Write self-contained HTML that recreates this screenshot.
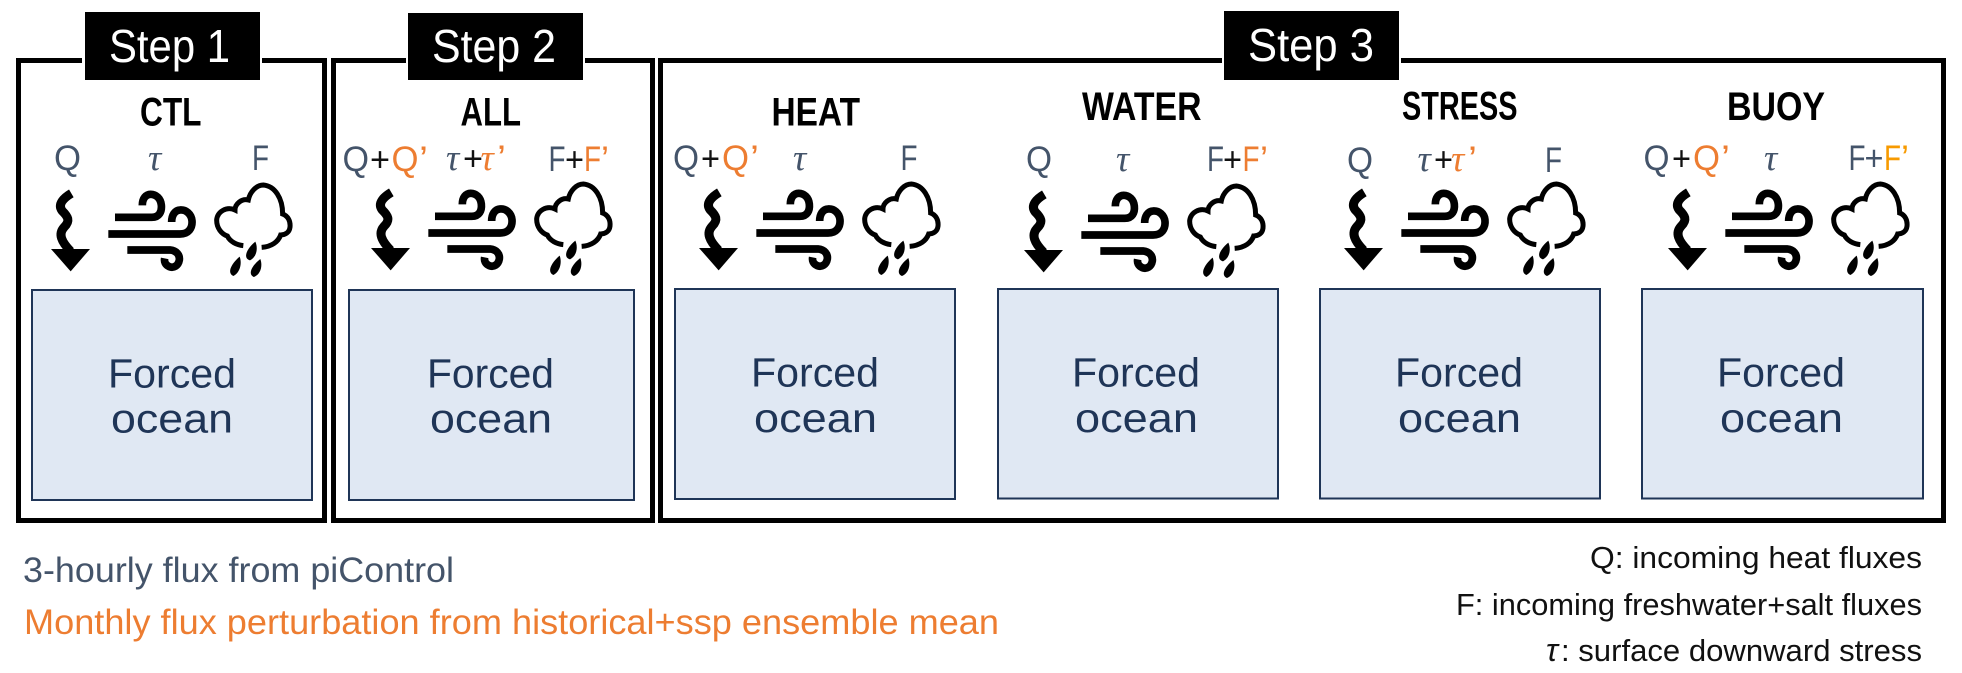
<!DOCTYPE html>
<html lang="en">
<head>
<meta charset="utf-8">
<title>Forced ocean experiment steps</title>
<style>
html,body{margin:0;padding:0;background:#fff;width:1962px;height:673px;overflow:hidden}
svg{display:block}
text{font-family:"Liberation Sans",sans-serif}
.step{font-size:46px;fill:#fff}
.title{font-size:40px;font-weight:bold;fill:#000}
.lab{font-size:35px;fill:#44546A}
.org{font-size:35px;fill:#ED7D31}
.plus{font-size:34px;fill:#111}
.tau{font-family:"Liberation Serif",serif;font-style:italic;font-size:37px;fill:#44546A}
.taug{font-family:"Liberation Serif",serif;font-style:italic;font-size:37px;fill:#ED7D31}
.fo{font-size:41px;fill:#1F3557}
.leg{font-size:35px}
.note{font-size:31px;fill:#111}
</style>
</head>
<body>
<svg width="1962" height="673" viewBox="0 0 1962 673" xmlns="http://www.w3.org/2000/svg">
<defs>
<g id="icons" transform="translate(40,130) scale(0.3333)">
  <path d="M94 190 C72 203 52 222 66 242 C84 260 92 272 72 292 C54 312 64 335 92 364" fill="none" stroke="#000" stroke-width="27"/>
  <polygon points="33,357 150,357 92,424" fill="#000"/>
  <g fill="none" stroke="#000" stroke-width="23">
    <path d="M225 262 H335 C358 262 366 245 364 225 C362 205 348 193 332 193 C318 193 307 205 307 226"/>
    <path d="M205 312 H420 C445 312 458 295 456 272 C454 252 438 238 420 240 C405 241 395 255 395 276"/>
    <path d="M262 360 H390 C410 362 420 375 418 390 C415 408 400 415 388 410 C376 405 372 395 374 385"/>
  </g>
  <path d="M610 347 C590 345 570 335 562 318 C545 312 530 295 530 270 C532 245 560 228 585 240 C585 222 605 205 625 210 C630 185 650 165 670 165 C705 168 728 205 728 252 C745 258 752 275 750 292 C748 308 735 315 722 315 C715 335 695 350 665 352" fill="none" stroke="#000" stroke-width="15"/>
  <path d="M646 335 C654 352 652 380 630 391 C610 386 616 360 646 335Z" fill="#000"/>
  <path d="M599 380 C606 398 602 427 580 438 C562 430 570 405 599 380Z" fill="#000"/>
  <path d="M661 387 C668 405 664 432 642 441 C624 434 632 410 661 387Z" fill="#000"/>
</g>
</defs>

<rect width="1962" height="673" fill="#fff"/>

<!-- Frames -->
<g fill="none" stroke="#000" stroke-width="5">
  <rect x="18.5" y="60.5" width="306" height="460"/>
  <rect x="333.5" y="60.5" width="319" height="460"/>
  <rect x="660.5" y="60.5" width="1283" height="460"/>
</g>

<!-- Step labels -->
<rect x="82" y="50" width="180" height="20" fill="#fff"/>
<rect x="406" y="50" width="179" height="20" fill="#fff"/>
<rect x="1222" y="50" width="179" height="20" fill="#fff"/>
<rect x="85" y="12" width="175" height="68" fill="#000"/>
<rect x="408" y="13" width="175" height="67" fill="#000"/>
<rect x="1224" y="11" width="175" height="69" fill="#000"/>
<text class="step" x="109" y="62" textLength="121" lengthAdjust="spacingAndGlyphs">Step 1</text>
<text class="step" x="432" y="62" textLength="124" lengthAdjust="spacingAndGlyphs">Step 2</text>
<text class="step" x="1248" y="61" textLength="126" lengthAdjust="spacingAndGlyphs">Step 3</text>

<!-- Titles -->
<text class="title" x="140" y="125.5" textLength="61.5" lengthAdjust="spacingAndGlyphs">CTL</text>
<text class="title" x="460.5" y="125.5" textLength="60.5" lengthAdjust="spacingAndGlyphs">ALL</text>
<text class="title" x="771.5" y="125.5" textLength="88.5" lengthAdjust="spacingAndGlyphs">HEAT</text>
<text class="title" x="1082" y="120" textLength="119.5" lengthAdjust="spacingAndGlyphs">WATER</text>
<text class="title" x="1402" y="119.5" textLength="115.5" lengthAdjust="spacingAndGlyphs">STRESS</text>
<text class="title" x="1727" y="120" textLength="98" lengthAdjust="spacingAndGlyphs">BUOY</text>

<!-- Panel 1 labels -->
<text class="lab" x="54" y="170" textLength="27" lengthAdjust="spacingAndGlyphs">Q</text>
<text class="tau" x="148" y="170">τ</text>
<text class="lab" x="252" y="170" textLength="17" lengthAdjust="spacingAndGlyphs">F</text>

<!-- Panel 2 labels -->
<text class="lab" x="342.5" y="171" textLength="26.5" lengthAdjust="spacingAndGlyphs">Q</text>
<text class="plus" x="370" y="171" textLength="20" lengthAdjust="spacingAndGlyphs">+</text>
<text class="org" x="391.5" y="171" textLength="27" lengthAdjust="spacingAndGlyphs">Q</text>
<text class="org" x="419" y="171" textLength="9" lengthAdjust="spacingAndGlyphs">’</text>
<text class="tau" x="446" y="170">τ</text>
<text class="plus" x="463" y="170" textLength="20" lengthAdjust="spacingAndGlyphs">+</text>
<text class="taug" x="480.5" y="170">τ</text>
<text class="org" x="497" y="170" textLength="9" lengthAdjust="spacingAndGlyphs">’</text>
<text class="lab" x="548.5" y="171" textLength="17" lengthAdjust="spacingAndGlyphs">F</text>
<text class="plus" x="565" y="171" textLength="19" lengthAdjust="spacingAndGlyphs">+</text>
<text class="org" x="584" y="171" textLength="17" lengthAdjust="spacingAndGlyphs">F</text>
<text class="org" x="601" y="171" textLength="8" lengthAdjust="spacingAndGlyphs">’</text>

<!-- Panel 3 labels -->
<text class="lab" x="673" y="170" textLength="26" lengthAdjust="spacingAndGlyphs">Q</text>
<text class="plus" x="701" y="170" textLength="19" lengthAdjust="spacingAndGlyphs">+</text>
<text class="org" x="722" y="170" textLength="27" lengthAdjust="spacingAndGlyphs">Q</text>
<text class="org" x="750" y="170" textLength="9" lengthAdjust="spacingAndGlyphs">’</text>
<text class="tau" x="793" y="170">τ</text>
<text class="lab" x="900.5" y="170" textLength="17" lengthAdjust="spacingAndGlyphs">F</text>

<!-- Panel 4 labels -->
<text class="lab" x="1026" y="171" textLength="26" lengthAdjust="spacingAndGlyphs">Q</text>
<text class="tau" x="1116" y="171">τ</text>
<text class="lab" x="1207" y="171" textLength="17" lengthAdjust="spacingAndGlyphs">F</text>
<text class="plus" x="1223" y="171" textLength="19" lengthAdjust="spacingAndGlyphs">+</text>
<text class="org" x="1242.5" y="171" textLength="17" lengthAdjust="spacingAndGlyphs">F</text>
<text class="org" x="1260" y="171" textLength="8" lengthAdjust="spacingAndGlyphs">’</text>

<!-- Panel 5 labels -->
<text class="lab" x="1347" y="172" textLength="26" lengthAdjust="spacingAndGlyphs">Q</text>
<text class="tau" x="1417.5" y="171">τ</text>
<text class="plus" x="1434" y="171" textLength="19" lengthAdjust="spacingAndGlyphs">+</text>
<text class="taug" x="1451" y="171">τ</text>
<text class="org" x="1468" y="171" textLength="9" lengthAdjust="spacingAndGlyphs">’</text>
<text class="lab" x="1545" y="172" textLength="17" lengthAdjust="spacingAndGlyphs">F</text>

<!-- Panel 6 labels -->
<text class="lab" x="1643.5" y="170" textLength="26" lengthAdjust="spacingAndGlyphs">Q</text>
<text class="plus" x="1672" y="170" textLength="19" lengthAdjust="spacingAndGlyphs">+</text>
<text class="org" x="1693" y="170" textLength="27" lengthAdjust="spacingAndGlyphs">Q</text>
<text class="org" x="1721" y="170" textLength="9" lengthAdjust="spacingAndGlyphs">’</text>
<text class="tau" x="1764" y="170">τ</text>
<text class="lab" x="1848.5" y="170" textLength="17" lengthAdjust="spacingAndGlyphs">F</text>
<text class="lab" x="1864.5" y="170" textLength="19" lengthAdjust="spacingAndGlyphs">+</text>
<text x="1884" y="170" font-size="35" fill="#F79A00" textLength="17" lengthAdjust="spacingAndGlyphs">F</text>
<text x="1901" y="170" font-size="35" fill="#F79A00" textLength="8" lengthAdjust="spacingAndGlyphs">’</text>

<!-- Icons -->
<use href="#icons"/>
<use href="#icons" transform="translate(320,-1)"/>
<use href="#icons" transform="translate(648,-1)"/>
<use href="#icons" transform="translate(973,1)"/>
<use href="#icons" transform="translate(1293,-1)"/>
<use href="#icons" transform="translate(1617,-1)"/>

<!-- Ocean boxes -->
<g fill="#E0E8F3" stroke="#1F3557" stroke-width="2">
  <rect x="32" y="290" width="280" height="210"/>
  <rect x="349" y="290" width="285" height="210"/>
  <rect x="675" y="289" width="280" height="210"/>
  <rect x="998" y="289" width="280" height="209.5"/>
  <rect x="1320" y="289" width="280" height="209.5"/>
  <rect x="1642" y="289" width="281" height="209.5"/>
</g>
<text class="fo" x="108" y="387.5" textLength="128" lengthAdjust="spacingAndGlyphs">Forced</text>
<text class="fo" x="111" y="432.5" textLength="122" lengthAdjust="spacingAndGlyphs">ocean</text>
<text class="fo" x="427" y="387.5" textLength="127" lengthAdjust="spacingAndGlyphs">Forced</text>
<text class="fo" x="430" y="432.5" textLength="122" lengthAdjust="spacingAndGlyphs">ocean</text>
<text class="fo" x="751" y="386.5" textLength="128" lengthAdjust="spacingAndGlyphs">Forced</text>
<text class="fo" x="754" y="432" textLength="123" lengthAdjust="spacingAndGlyphs">ocean</text>
<text class="fo" x="1072" y="386.5" textLength="128" lengthAdjust="spacingAndGlyphs">Forced</text>
<text class="fo" x="1075" y="432" textLength="123" lengthAdjust="spacingAndGlyphs">ocean</text>
<text class="fo" x="1395" y="386.5" textLength="128" lengthAdjust="spacingAndGlyphs">Forced</text>
<text class="fo" x="1398" y="432" textLength="123" lengthAdjust="spacingAndGlyphs">ocean</text>
<text class="fo" x="1717" y="386.5" textLength="128" lengthAdjust="spacingAndGlyphs">Forced</text>
<text class="fo" x="1720" y="432" textLength="123" lengthAdjust="spacingAndGlyphs">ocean</text>

<!-- Legends -->
<text class="leg" x="23" y="582" fill="#44546A" textLength="431" lengthAdjust="spacingAndGlyphs">3-hourly flux from piControl</text>
<text class="leg" x="24" y="634" fill="#ED7D31" textLength="975" lengthAdjust="spacingAndGlyphs">Monthly flux perturbation from historical+ssp ensemble mean</text>

<text class="note" x="1590" y="568" textLength="332" lengthAdjust="spacingAndGlyphs">Q: incoming heat fluxes</text>
<text class="note" x="1456" y="615" textLength="466" lengthAdjust="spacingAndGlyphs">F: incoming freshwater+salt fluxes</text>
<text x="1546" y="661" font-family="Liberation Serif" font-style="italic" font-size="32" fill="#111">τ</text>
<text class="note" x="1561" y="661" textLength="361" lengthAdjust="spacingAndGlyphs">: surface downward stress</text>
</svg>
</body>
</html>
